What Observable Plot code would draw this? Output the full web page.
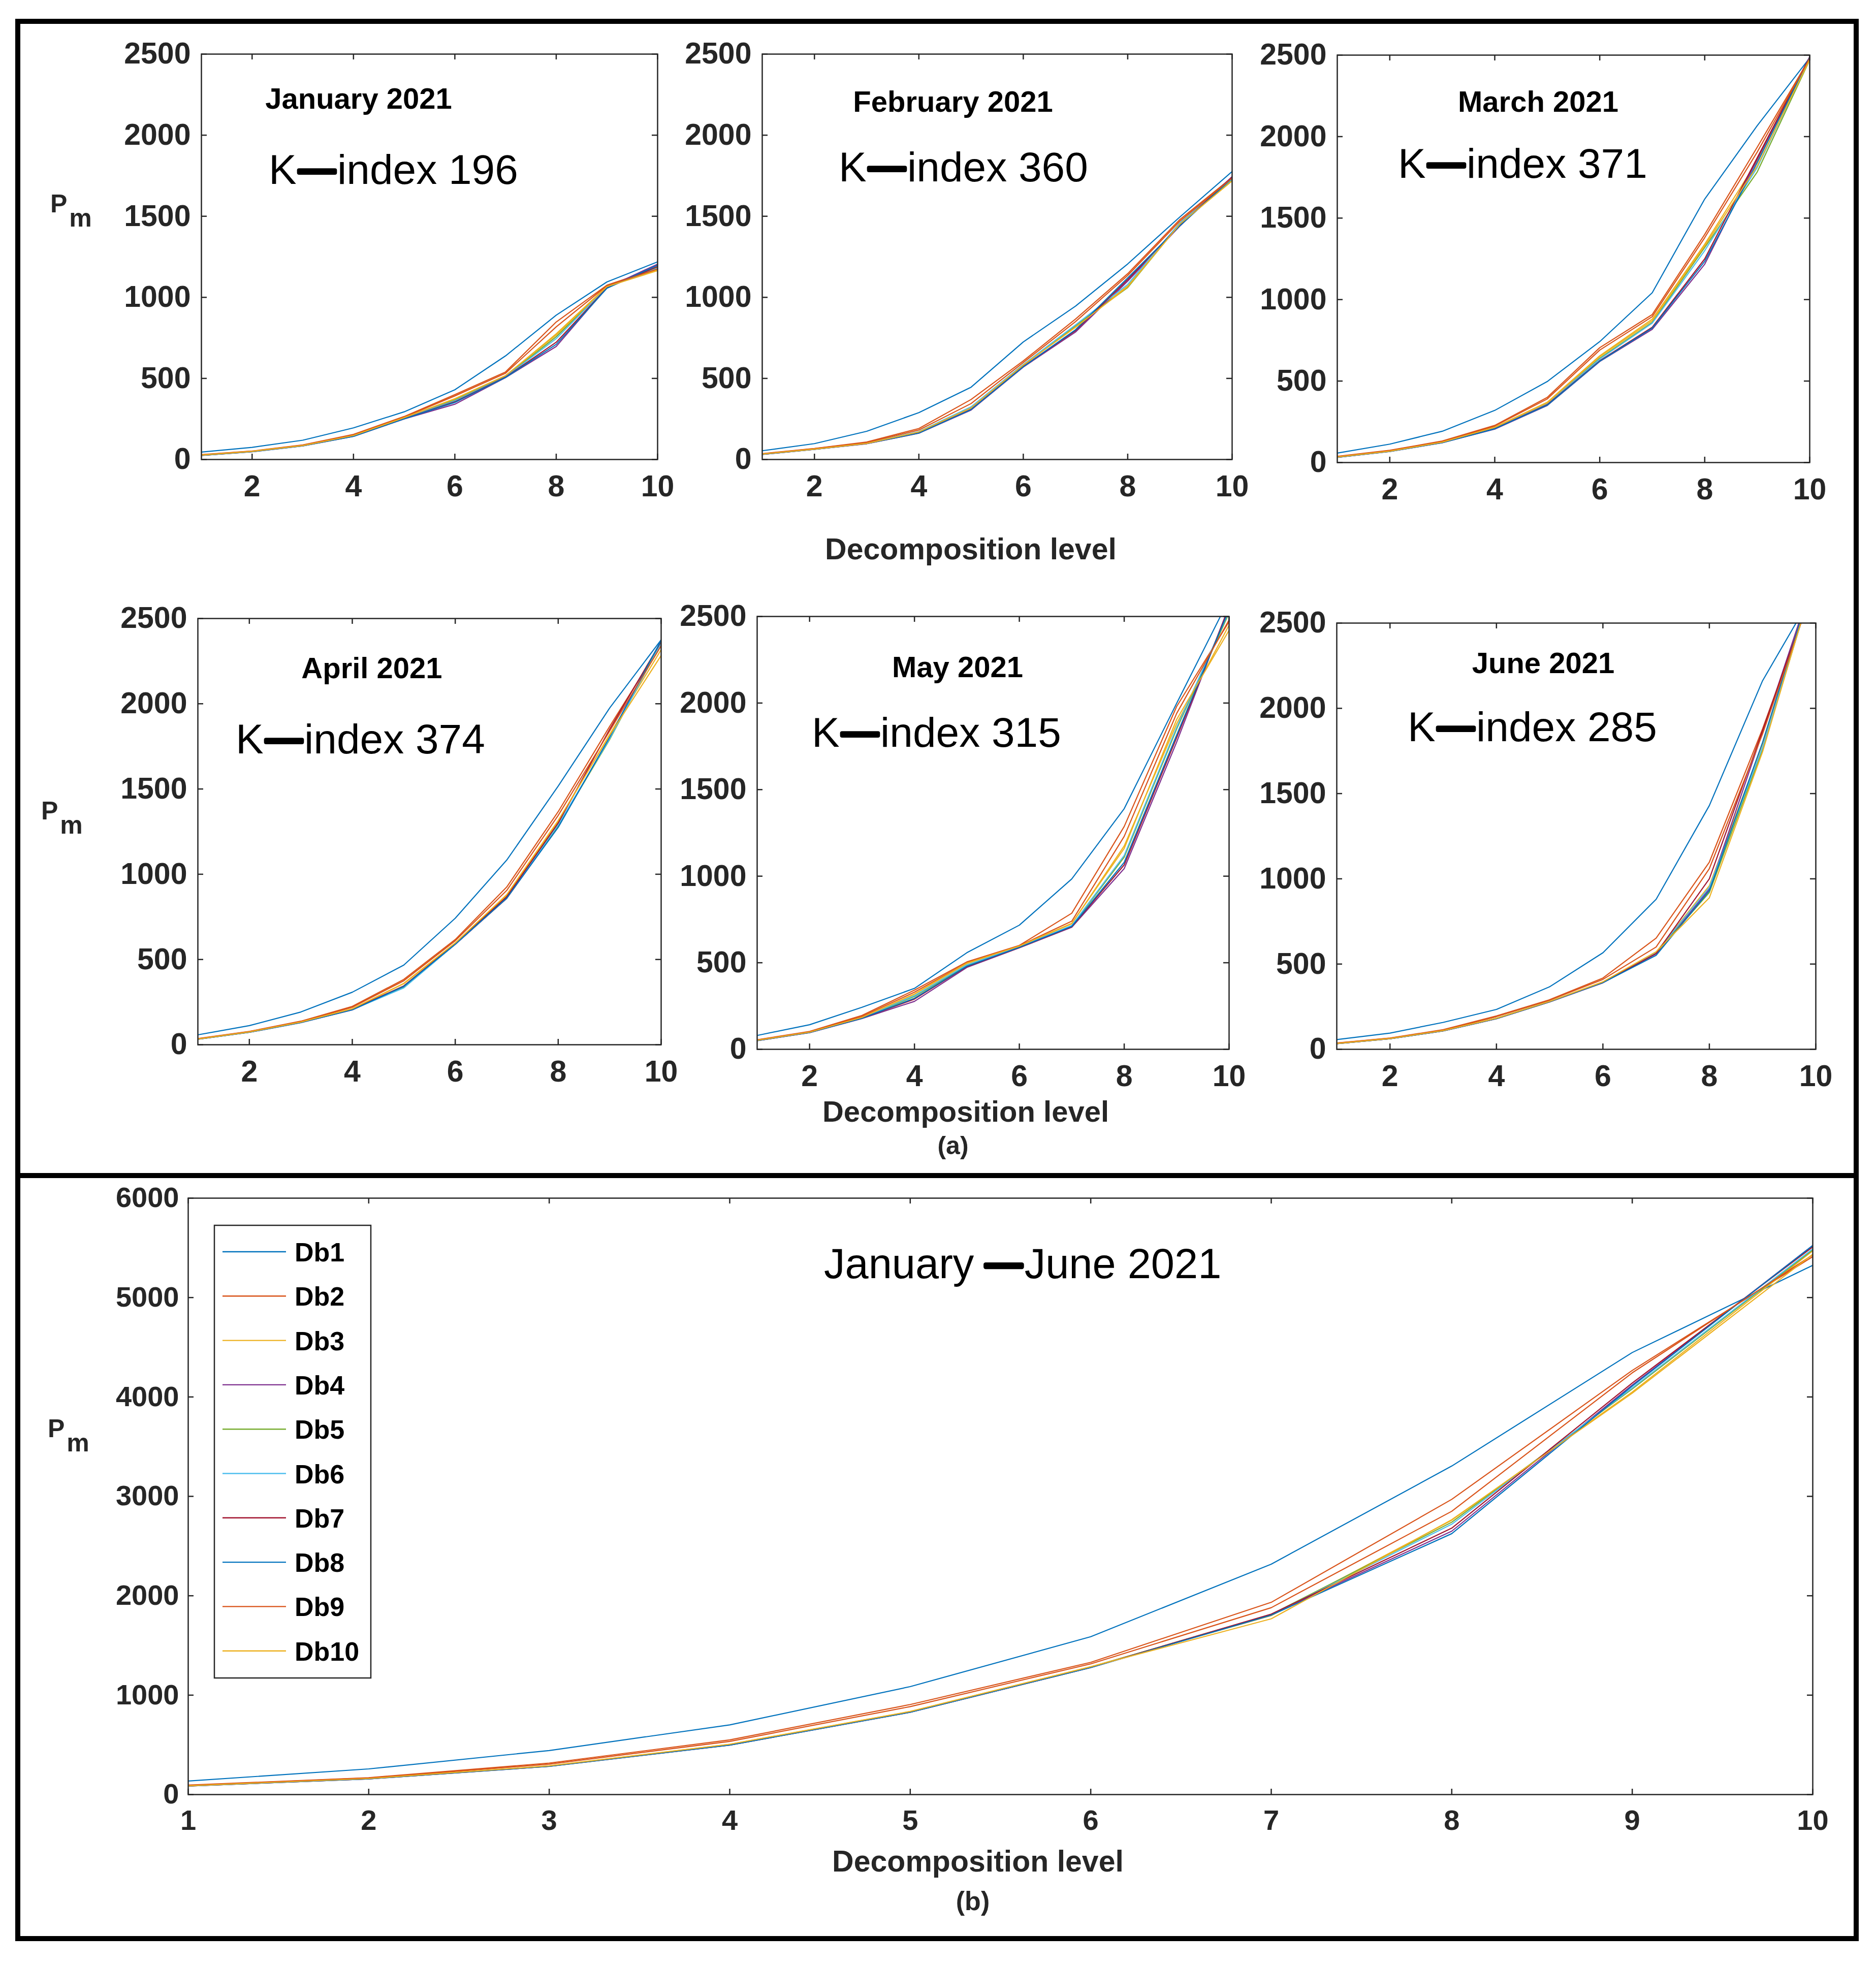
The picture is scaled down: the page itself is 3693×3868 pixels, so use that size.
<!DOCTYPE html>
<html>
<head>
<meta charset="utf-8">
<script src="https://cdn.jsdelivr.net/npm/d3@7"></script>
<script src="https://cdn.jsdelivr.net/npm/@observablehq/plot@0.6"></script>
<style>
html, body { margin: 0; padding: 0; background: #fff; }
#page { position: relative; width: 3693px; height: 3868px; background: #fff; overflow: hidden; }
.panel { position: absolute; }
#overlay { position: absolute; left: 0; top: 0; pointer-events: none; }
</style>
</head>
<body>
<div id="page"></div>
<script>
// ---------- data ----------
const wavelets = ["Db1","Db2","Db3","Db4","Db5","Db6","Db7","Db8","Db9","Db10"];
const levels = [1,2,3,4,5,6,7,8,9,10];
const colors = ["#0072BD","#D95319","#EDB120","#7E2F8E","#77AC30","#4DBEEE","#A2142F","#0072BD","#D95319","#EDB120"];

const monthTitles = ["January 2021","February 2021","March 2021","April 2021","May 2021","June 2021"];
const kIndex = [196, 360, 371, 374, 315, 285];

const smallXTicks = [2,4,6,8,10];
const smallYTicks = [0,500,1000,1500,2000,2500];
const bigXTicks = [1,2,3,4,5,6,7,8,9,10];
const bigYTicks = [0,1000,2000,3000,4000,5000,6000];

const janData = [
  [46, 75, 119, 195, 294, 430, 639, 890, 1095, 1219],
  [30, 52, 90, 155, 265, 400, 540, 848, 1075, 1180],
  [27, 50, 86, 148, 258, 372, 515, 775, 1068, 1170],
  [25, 48, 84, 143, 250, 341, 505, 697, 1060, 1205],
  [26, 50, 87, 147, 256, 366, 512, 757, 1064, 1185],
  [26, 49, 86, 146, 255, 362, 510, 745, 1062, 1180],
  [25, 49, 85, 144, 252, 356, 508, 723, 1058, 1190],
  [25, 48, 84, 143, 251, 352, 506, 710, 1056, 1198],
  [29, 51, 88, 152, 262, 392, 532, 818, 1072, 1175],
  [27, 50, 86, 148, 258, 375, 518, 768, 1066, 1165]
];
const febData = [
  [54, 98, 174, 289, 446, 725, 946, 1206, 1496, 1776],
  [36, 68, 108, 191, 370, 608, 866, 1146, 1480, 1740],
  [33, 64, 100, 168, 320, 580, 820, 1070, 1450, 1720],
  [32, 63, 97, 162, 305, 570, 786, 1100, 1440, 1745],
  [33, 64, 100, 170, 322, 584, 826, 1060, 1455, 1725],
  [33, 65, 101, 172, 325, 586, 830, 1080, 1460, 1730],
  [32, 63, 98, 164, 310, 574, 795, 1110, 1445, 1740],
  [32, 63, 98, 163, 308, 572, 800, 1120, 1442, 1735],
  [35, 67, 105, 182, 345, 598, 850, 1135, 1470, 1735],
  [33, 64, 99, 170, 318, 582, 815, 1065, 1452, 1718]
];
const marData = [
  [58, 113, 192, 320, 497, 742, 1042, 1617, 2067, 2483],
  [38, 75, 132, 228, 400, 705, 908, 1400, 1935, 2480],
  [34, 70, 126, 217, 370, 655, 880, 1340, 1850, 2475],
  [32, 68, 122, 205, 350, 620, 817, 1217, 1860, 2490],
  [33, 70, 125, 215, 362, 640, 860, 1320, 1783, 2470],
  [33, 70, 124, 213, 360, 635, 855, 1300, 1810, 2478],
  [32, 69, 123, 208, 355, 625, 830, 1250, 1870, 2488],
  [32, 68, 122, 207, 352, 622, 825, 1235, 1840, 2485],
  [36, 73, 130, 224, 390, 690, 895, 1380, 1905, 2480],
  [34, 70, 125, 216, 366, 650, 870, 1330, 1820, 2472]
];
const aprData = [
  [58, 112, 192, 308, 467, 742, 1083, 1517, 1975, 2375],
  [36, 78, 138, 225, 383, 617, 925, 1367, 1867, 2350],
  [33, 75, 133, 210, 358, 595, 875, 1310, 1820, 2317],
  [32, 73, 130, 204, 340, 588, 858, 1280, 1800, 2370],
  [33, 74, 131, 207, 335, 590, 860, 1285, 1790, 2360],
  [33, 74, 132, 206, 333, 589, 862, 1290, 1795, 2355],
  [33, 74, 131, 208, 345, 592, 868, 1300, 1850, 2365],
  [32, 73, 130, 205, 342, 590, 860, 1275, 1805, 2372],
  [35, 77, 136, 220, 375, 610, 905, 1345, 1840, 2340],
  [33, 75, 133, 211, 360, 597, 880, 1315, 1815, 2283]
];
const mayData = [
  [80, 142, 243, 352, 558, 717, 984, 1390, 1998, 2600],
  [55, 103, 196, 342, 505, 600, 786, 1287, 1980, 2470],
  [52, 99, 183, 318, 495, 594, 725, 1175, 1880, 2450],
  [50, 96, 178, 277, 473, 586, 705, 1044, 1774, 2560],
  [51, 98, 181, 305, 485, 590, 712, 1110, 1850, 2520],
  [51, 98, 182, 310, 488, 592, 715, 1120, 1860, 2530],
  [50, 97, 180, 290, 478, 588, 708, 1065, 1800, 2550],
  [50, 97, 179, 295, 480, 589, 710, 1080, 1815, 2540],
  [54, 101, 190, 330, 500, 598, 740, 1230, 1940, 2480],
  [52, 99, 184, 320, 498, 596, 728, 1160, 1905, 2420]
];
const junData = [
  [57, 95, 158, 234, 367, 566, 880, 1430, 2162, 2700],
  [37, 66, 115, 196, 291, 418, 652, 1098, 1880, 2740],
  [34, 63, 110, 182, 281, 395, 570, 960, 1790, 2780],
  [33, 62, 108, 180, 278, 390, 560, 940, 1860, 2800],
  [34, 63, 109, 181, 280, 393, 565, 920, 1760, 2790],
  [34, 63, 110, 182, 281, 394, 568, 950, 1770, 2785],
  [33, 62, 108, 180, 279, 392, 562, 1000, 1870, 2760],
  [33, 62, 108, 180, 279, 391, 551, 930, 1800, 2800],
  [36, 65, 113, 192, 288, 410, 600, 1060, 1850, 2750],
  [34, 63, 110, 182, 281, 396, 572, 889, 1745, 2800]
];
const allData = [
  [136, 258, 443, 701, 1086, 1588, 2318, 3305, 4447, 5324],
  [95, 170, 317, 550, 906, 1330, 1934, 2970, 4267, 5412],
  [88, 160, 288, 505, 835, 1285, 1800, 2760, 4050, 5470],
  [86, 158, 284, 498, 828, 1278, 1810, 2650, 4120, 5524],
  [87, 160, 286, 502, 832, 1282, 1812, 2740, 4080, 5480],
  [87, 159, 286, 501, 831, 1281, 1808, 2720, 4090, 5490],
  [86, 158, 285, 499, 829, 1279, 1815, 2680, 4140, 5510],
  [86, 158, 284, 498, 828, 1278, 1805, 2625, 4110, 5524],
  [92, 167, 306, 535, 885, 1315, 1880, 2850, 4243, 5430],
  [88, 161, 289, 506, 836, 1286, 1768, 2765, 4038, 5436]
];
const monthSeries = [janData, febData, marData, aprData, mayData, junData];

// ---------- layout ----------
const FONT = "'Liberation Sans', Arial, Helvetica, sans-serif";
const AXIS = "#262626";
const monthBoxes = [
  {L: 396, T: 106, R: 1294, B: 904},
  {L: 1500, T: 106, R: 2425, B: 904},
  {L: 2632, T: 108, R: 3562, B: 910},
  {L: 389, T: 1217, R: 1301, B: 2056},
  {L: 1490, T: 1213, R: 2419, B: 2065},
  {L: 2631, T: 1226, R: 3574, B: 2065}
];
const bigBox = {L: 370, T: 2358, R: 3568, B: 3532};
const titleLayout = [
  {cx: 706, y: 214, kx: 529, ky: 362},
  {cx: 1876, y: 220, kx: 1651, ky: 357},
  {cx: 3028, y: 220, kx: 2752, ky: 350},
  {cx: 732, y: 1335, kx: 464, ky: 1483},
  {cx: 1885, y: 1333, kx: 1598, ky: 1470},
  {cx: 3038, y: 1325, kx: 2771, ky: 1459}
];

const page = document.getElementById("page");

function makePanel(series, box, yMax, xTicks, yTicks, fs, padX, padY) {
  const mL = 180, mR = 70, mT = 12, mB = 110;
  const w = box.R - box.L, h = box.B - box.T;
  const rows = [];
  wavelets.forEach((name, i) => levels.forEach((lv, j) => rows.push({wavelet: name, level: lv, value: series[i][j]})));
  const tl = 11;
  const tickStyle = {stroke: AXIS, strokeWidth: 2.5};
  const chart = Plot.plot({
    width: w + mL + mR,
    height: h + mT + mB,
    marginLeft: mL, marginRight: mR, marginTop: mT, marginBottom: mB,
    style: {fontFamily: FONT, fontSize: fs + "px", fontWeight: "bold", color: AXIS, background: "transparent", maxWidth: "none", overflow: "visible"},
    x: {domain: [1, 10], ticks: xTicks, tickSize: 0, tickPadding: padX, label: null, tickFormat: d => String(d)},
    y: {domain: [0, yMax], ticks: yTicks, tickSize: 0, tickPadding: padY, label: null, tickFormat: d => String(d)},
    color: {domain: wavelets, range: colors},
    marks: [
      Plot.line(rows, {x: "level", y: "value", z: "wavelet", stroke: "wavelet", strokeWidth: 2.2, clip: true}),
      Plot.tickX(xTicks, {x: d => d, insetTop: h - tl, ...tickStyle}),
      Plot.tickX(xTicks, {x: d => d, insetBottom: h - tl, ...tickStyle}),
      Plot.tickY(yTicks, {y: d => d, insetRight: w - tl, ...tickStyle}),
      Plot.tickY(yTicks, {y: d => d, insetLeft: w - tl, ...tickStyle}),
      Plot.frame({stroke: AXIS, strokeWidth: 2.5})
    ]
  });
  const div = document.createElement("div");
  div.className = "panel";
  div.style.left = (box.L - mL) + "px";
  div.style.top = (box.T - mT) + "px";
  div.appendChild(chart);
  page.appendChild(div);
}

monthSeries.forEach((s, i) => makePanel(s, monthBoxes[i], 2500, smallXTicks, smallYTicks, 59, 31, 21));
makePanel(allData, bigBox, 6000, bigXTicks, bigYTicks, 56, 30, 18);

// ---------- overlay: frames, titles, labels, legend ----------
const svg = d3.select(page).append("svg")
  .attr("id", "overlay").attr("width", 3693).attr("height", 3868)
  .style("font-family", FONT);

svg.append("rect").attr("x", 35).attr("y", 42).attr("width", 3619).attr("height", 3774)
  .attr("fill", "none").attr("stroke", "#000").attr("stroke-width", 10);
svg.append("line").attr("x1", 35).attr("x2", 3654).attr("y1", 2314).attr("y2", 2314)
  .attr("stroke", "#000").attr("stroke-width", 10);

function dashText(x, y, before, after, size, gapBefore) {
  const t = svg.append("text").attr("x", x).attr("y", y).attr("font-size", size)
    .attr("fill", "#000");
  t.append("tspan").text(before);
  t.append("tspan").attr("dx", gapBefore).attr("dy", -size * 0.07)
    .attr("font-size", size * 0.86).attr("stroke", "#000").attr("stroke-width", size * 0.1)
    .attr("stroke-linejoin", "round").text("\u2014");
  t.append("tspan").attr("dx", size * 0.06).attr("dy", size * 0.07).text(after);
  return t;
}

monthTitles.forEach((title, i) => {
  const L = titleLayout[i];
  svg.append("text").attr("x", L.cx).attr("y", L.y).attr("text-anchor", "middle")
    .attr("font-size", 58).attr("font-weight", "bold").attr("fill", "#000").text(title);
  dashText(L.kx, L.ky, "K", "index " + kIndex[i], 82, 5);
});

// bottom title
dashText(1622, 2516, "January ", "June 2021", 83, 0);

function pmLabel(x, y) {
  const t = svg.append("text").attr("x", x).attr("y", y).attr("font-size", 50)
    .attr("font-weight", "bold").attr("fill", AXIS);
  t.append("tspan").text("P");
  t.append("tspan").attr("dx", 4).attr("dy", 28).text("m");
}
pmLabel(99, 418);
pmLabel(81, 1613);
pmLabel(94, 2829);

function boldCenter(x, y, txt, size) {
  svg.append("text").attr("x", x).attr("y", y).attr("text-anchor", "middle")
    .attr("font-size", size).attr("font-weight", "bold").attr("fill", AXIS).text(txt);
}
boldCenter(1911, 1101, "Decomposition level", 59);
boldCenter(1901, 2208, "Decomposition level", 58);
boldCenter(1876, 2272, "(a)", 50);
boldCenter(1925, 3684, "Decomposition level", 59);
boldCenter(1915, 3760, "(b)", 52);

// legend
const lg = svg.append("g");
lg.append("rect").attr("x", 422).attr("y", 2412).attr("width", 308).attr("height", 891)
  .attr("fill", "#fff").attr("stroke", AXIS).attr("stroke-width", 2.5);
wavelets.forEach((name, i) => {
  const y = 2464 + i * 87.3;
  lg.append("line").attr("x1", 438).attr("x2", 563).attr("y1", y).attr("y2", y)
    .attr("stroke", colors[i]).attr("stroke-width", 2.4);
  lg.append("text").attr("x", 580).attr("y", y + 19).attr("font-size", 52)
    .attr("font-weight", "bold").attr("fill", "#000").text(name);
});
</script>
</body>
</html>
